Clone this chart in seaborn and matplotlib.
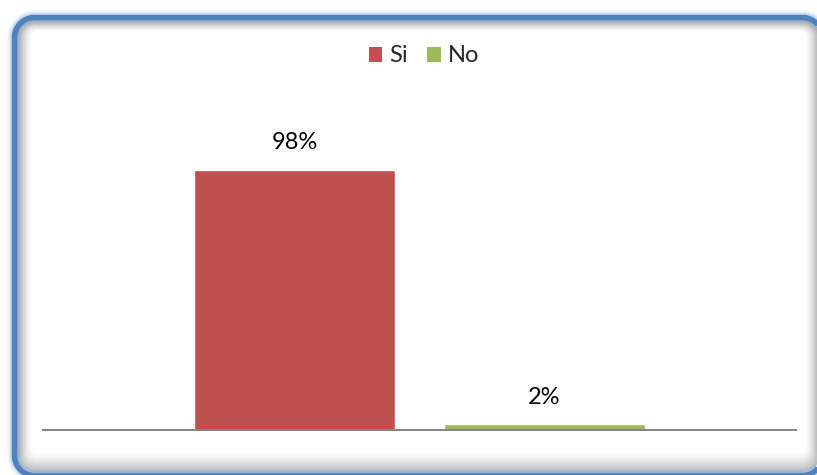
import matplotlib
matplotlib.use("Agg")
import matplotlib.pyplot as plt
from matplotlib.patches import PathPatch, Patch
from matplotlib.path import Path
from matplotlib.transforms import Affine2D
import numpy as np
import pandas as pd
import seaborn as sns

# Survey answers and their share of responses
respuestas = ["Si", "No"]
porcentajes = [0.98, 0.02]
etiquetas = ["98%", "2%"]
colores = ["#C0504D", "#9BBB59"]

sns.set_theme(style="white")
plt.rcParams["font.family"] = ["Lato", "DejaVu Sans"]

W, H = 817, 475
DPI = 100
fig = plt.figure(figsize=(W / DPI, H / DPI), dpi=DPI)
fig.patch.set_facecolor("white")

# Pixel transform with origin at the top-left corner of the figure
pix = Affine2D().scale(1 / DPI, -1 / DPI).translate(0, H / DPI) + fig.dpi_scale_trans
PX = 72 / DPI  # points per pixel

fx0, fy0, fx1, fy1, rad = 14.5, 17.5, 822.5, 475.5, 20


def rounded_rect(x0, y0, x1, y1, r):
    t = np.linspace(0, np.pi / 2, 16)
    pts = []
    # corners in pixel space (y grows downward)
    for cx, cy, a0 in [(x1 - r, y0 + r, -np.pi / 2), (x1 - r, y1 - r, 0),
                       (x0 + r, y1 - r, np.pi / 2), (x0 + r, y0 + r, np.pi)]:
        ang = a0 + t
        pts.append(np.column_stack([cx + r * np.cos(ang), cy + r * np.sin(ang)]))
    verts = np.vstack(pts + [pts[0][:1]])
    return Path(verts)


def frame(il, it, ir, ib, **kw):
    r = max(rad - min(il, it), 4)
    path = rounded_rect(fx0 + il, fy0 + it, fx1 - ir, fy1 - ib, r)
    fig.add_artist(PathPatch(path, fill=False, transform=pix, zorder=0,
                             joinstyle="round", **kw))


# soft inner shadow, heavier along the bottom edge
steps = 28
for i in range(steps):
    k = 2.5 + i * 0.5
    a = 0.34 * (1 - i / steps) ** 1.5
    frame(k, k * 0.8, k, k * 1.4, edgecolor="#7a7a7a", lw=1.3 * PX, alpha=a)

# outer glow and main blue stroke
for g, a in [(14, 0.12), (11, 0.2), (8, 0.3)]:
    frame(0, 0, 0, 0, edgecolor="#8DB3E2", lw=g * PX, alpha=a)
frame(0, 0, 0, 0, edgecolor="#4F81BD", lw=5.5 * PX)

# Plot area
ax = fig.add_axes([43 / W, 1 - 429.5 / H, 753 / W, 317.8 / H], zorder=1)
ax.set_facecolor("none")

df = pd.DataFrame({"respuesta": respuestas, "porcentaje": porcentajes})
sns.barplot(data=df, x="respuesta", y="porcentaje", hue="respuesta",
            palette=colores, saturation=1, width=0.804, legend=False, ax=ax)

ax.set_xlim(-1.006, 2.006)
ax.set_ylim(0, 1.2)
for s in ["top", "right", "left"]:
    ax.spines[s].set_visible(False)
ax.spines["bottom"].set_color("#868686")
ax.spines["bottom"].set_linewidth(2 * PX)
ax.set_xticks([])
ax.set_yticks([])
ax.set_xlabel("")
ax.set_ylabel("")

for i, (v, t) in enumerate(zip(porcentajes, etiquetas)):
    ax.annotate(t, (i, v), xytext=(0, 19.5), textcoords="offset points",
                ha="center", va="center", fontsize=17, color="black")

handles = [Patch(facecolor=c, edgecolor="none") for c in colores]
fig.legend(handles, respuestas, loc="center", bbox_to_anchor=(424 / W, 1 - 56 / H),
           ncol=2, frameon=False, fontsize=17, handlelength=0.58, handleheight=0.58,
           handletextpad=0.3, columnspacing=0.8)

fig.savefig("out.png", dpi=DPI, facecolor="white")
